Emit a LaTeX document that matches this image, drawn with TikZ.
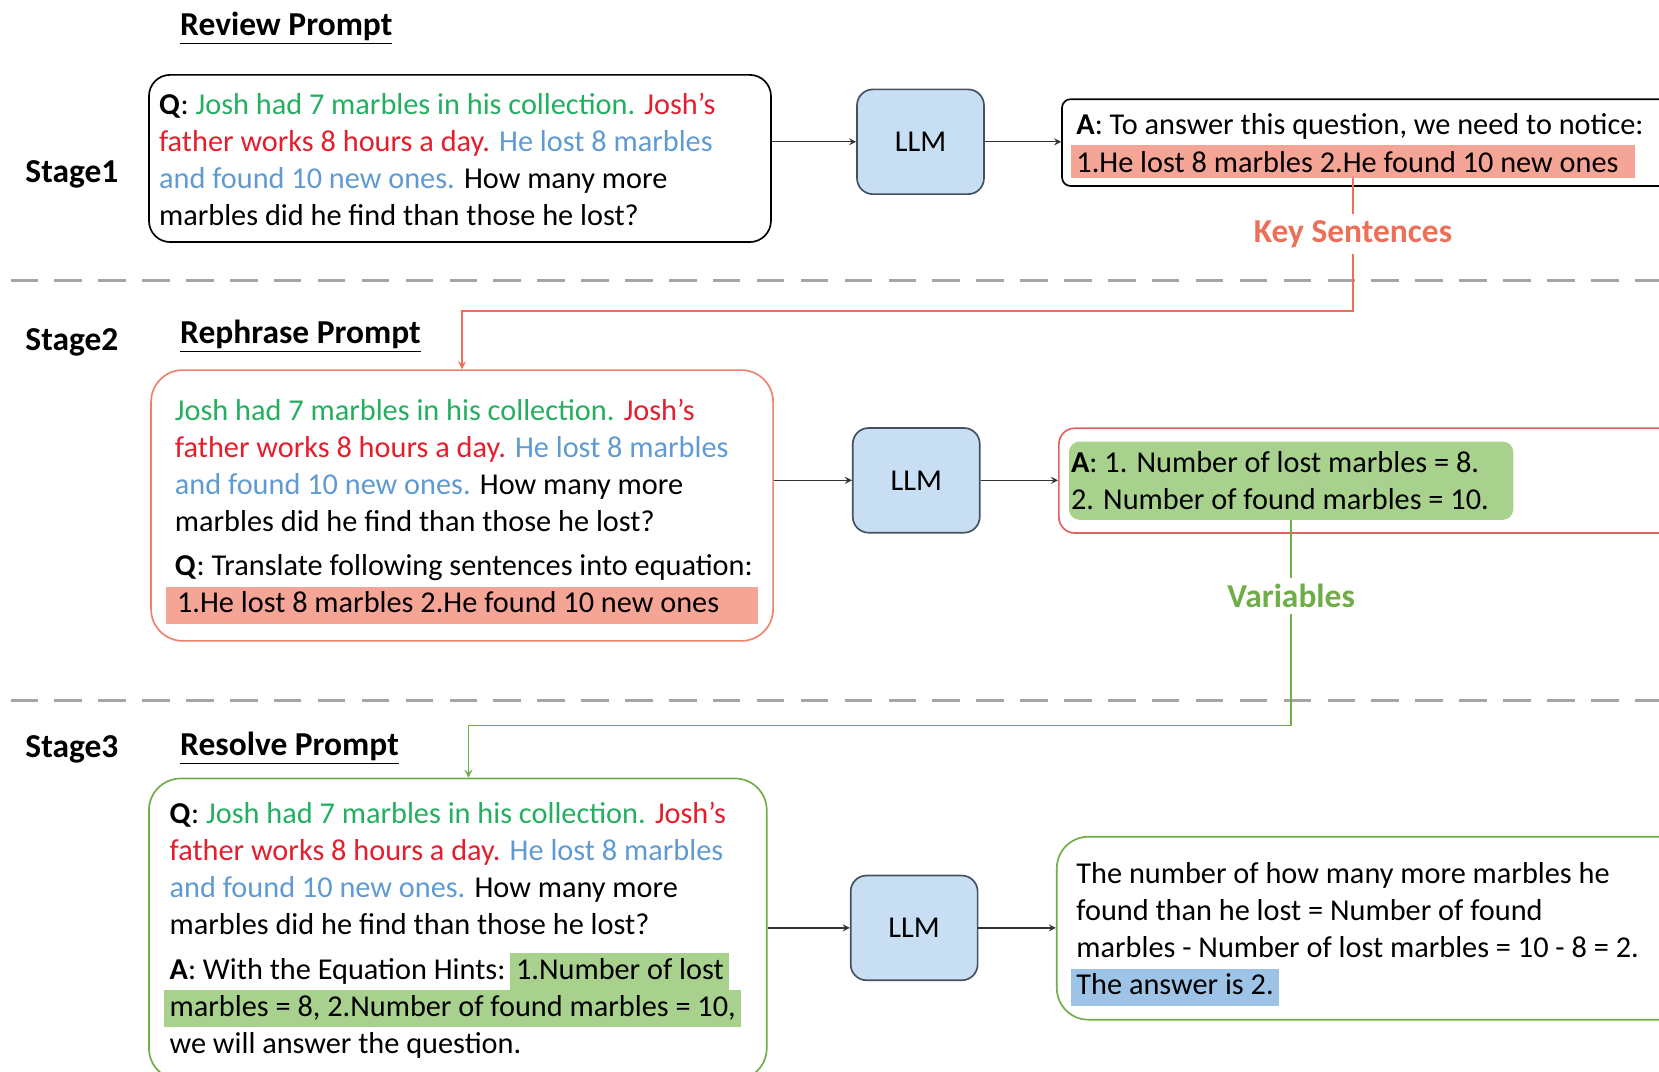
\documentclass[tikz,border=0pt]{standalone}
\usepackage{fontspec}
\setmainfont{Carlito}
\usepackage{tikz}
\usetikzlibrary{arrows, shapes, positioning}
\definecolor{storygreen}{RGB}{35,175,95}
\definecolor{storyred}{RGB}{228,30,45}
\definecolor{storyblue}{RGB}{95,155,210}
\definecolor{keyfill}{RGB}{245,165,150}
\definecolor{varfill}{RGB}{169,209,142}
\definecolor{ansfill}{RGB}{157,195,230}
\definecolor{llmfill}{RGB}{200,222,242}
\definecolor{llmline}{RGB}{70,80,95}
\definecolor{keycolor}{RGB}{236,112,88}
\definecolor{varcolor}{RGB}{112,173,71}
\definecolor{promptred}{RGB}{238,130,110}
\definecolor{ansred}{RGB}{228,95,95}
\definecolor{divgray}{RGB}{165,165,165}
\tikzset{
  node distance=1.5cm,
  every node/.style={align=left, font=\fontsize{16.3}{19.9}\selectfont}
}
\newcommand{\story}[1]{#1\textcolor{storygreen}{Josh had 7 marbles in his collection.} \textcolor{storyred}{Josh’s}\\
\textcolor{storyred}{father works 8 hours a day.} \textcolor{storyblue}{He lost 8 marbles}\\
\textcolor{storyblue}{and found 10 new ones.} How many more\\
marbles did he find than those he lost?}
\newcommand{\hilite}[2]{{\setlength{\fboxsep}{0pt}\colorbox{#1}{\hspace{3pt}\strut#2\hspace{3pt}}}}
\newcommand{\hlbar}[3]{{\setlength{\fboxsep}{0pt}\colorbox{#1}{\makebox[#2][l]{\hspace{0.2cm}\strut#3}}}}

\begin{document}
\begin{tikzpicture}[x=0.02cm, y=-0.02cm]
\tikzstyle{prompt}=[rectangle, draw, line width=0.9pt, anchor=north west,
  minimum width=11.76cm]
\tikzstyle{txt}=[anchor=north west, inner sep=0]
\tikzstyle{llm}=[rectangle, draw=llmline, fill=llmfill, line width=0.9pt,
  rounded corners=0.3cm, minimum width=2.4cm, minimum height=1.98cm, align=center]
\tikzstyle{answer}=[rectangle, draw, line width=0.9pt, anchor=north west,
  minimum width=12cm]
\tikzstyle{stage}=[font=\fontsize{18}{22}\selectfont\bfseries]
\tikzstyle{title}=[font=\fontsize{18}{22}\selectfont\bfseries, anchor=west, inner sep=0]
\tikzstyle{arr}=[-stealth, draw=black!80, line width=0.7pt]
\tikzstyle{divider}=[draw=divgray, line width=1.7pt, dash pattern=on 0.52cm off 0.31cm]
\tikzstyle{keyline}=[-stealth, draw=keycolor, line width=0.9pt]
\tikzstyle{varline}=[-stealth, draw=varcolor, line width=0.9pt]
\tikzstyle{keylabel}=[fill=white, text=keycolor, font=\fontsize{18}{22}\selectfont\bfseries]
\tikzstyle{varlabel}=[fill=white, text=varcolor, font=\fontsize{18}{22}\selectfont\bfseries]

\useasboundingbox (0,0) rectangle (1568,1013);

% stage 1
\node[stage](s1) at (68,165){Stage1};
\node[title](t1) at (170,27){\underline{Review Prompt}};
\node[prompt, rounded corners=0.4cm, minimum height=3.16cm](box1) at (140,70){};
\node[txt](q1) at (150,88){\story{\textbf{Q}: }};
\node[llm](llm1) at (870,134){LLM};
\node[answer, rounded corners=0.16cm, minimum height=1.64cm](ans1) at (1003,93){};
\node[txt](a1) at (1017,107){\textbf{A}: To answer this question, we need to notice:};
\node[anchor=north west, fill=keyfill, inner xsep=0.1cm, inner ysep=0,
  minimum height=0.62cm](ks1) at (1012,137)
  {\makebox[10.46cm][l]{1.He lost 8 marbles 2.He found 10 new ones}};
\draw[arr](box1.east |- llm1.west) -- (llm1.west);
\draw[arr](llm1.east) -- (llm1.east -| ans1.west);

% dividers
\draw[divider](10,265) -- (1568,265);
\draw[divider](10,662) -- (1568,662);

% stage 2
\node[stage](s2) at (68,324){Stage2};
\node[title](t2) at (170,318){\underline{Rephrase Prompt}};
\node[prompt, draw=promptred, rounded corners=0.6cm, minimum height=5.12cm](box2) at (142,349){};
\node[txt](q2) at (165,377){\story{}\\[0.14cm]
  \textbf{Q}: Translate following sentences into equation:\\
  \hspace*{-0.16cm}\hlbar{keyfill}{11.18cm}{1.He lost 8 marbles 2.He found 10 new ones}};
\node[llm](llm2) at (866,454){LLM};
\node[answer, draw=ansred, rounded corners=0.3cm, minimum height=1.98cm](ans2) at (1000,404){};
\node[anchor=north west, fill=varfill, rounded corners=0.2cm, text width=8.32cm,
  align=flush left, inner xsep=0.04cm, minimum height=1.48cm](var2) at (1010,417)
  {\textbf{A}: 1. Number of lost marbles = 8.\\2. Number of found marbles = 10.};
\draw[arr](box2.east |- llm2.west) -- (llm2.west);
\draw[arr](llm2.east) -- (llm2.east -| ans2.west);

% key sentences go to stage 2
\draw[keyline](ks1.south) -- node[keylabel, pos=0.42]{Key Sentences} ++(0,125) -| (box2.north);

% stage 3
\node[stage](s3) at (68,708){Stage3};
\node[title](t3) at (170,707){\underline{Resolve Prompt}};
\node[prompt, draw=varcolor, rounded corners=0.6cm, minimum width=11.68cm,
  minimum height=5.7cm](box3) at (140,735){};
\node[txt](q3) at (160,758){\story{\textbf{Q}: }\\[0.14cm]
  \textbf{A}: With the Equation Hints:\,\hilite{varfill}{1.Number of lost}\\
  \hspace*{-3pt}\hilite{varfill}{marbles = 8, 2.Number of found marbles = 10,}\\
  we will answer the question.};
\node[llm](llm3) at (864,877){LLM};
\node[answer, draw=varcolor, rounded corners=0.6cm, minimum height=3.46cm](ans3) at (998,790){};
\node[txt](r3) at (1017,815){The number of how many more marbles he\\
  found than he lost = Number of found\\
  marbles - Number of lost marbles = 10 - 8 = 2.\\
  \hspace*{-3pt}\hilite{ansfill}{The answer is 2.}};
\draw[arr](box3.east |- llm3.west) -- (llm3.west);
\draw[arr](llm3.east) -- (llm3.east -| ans3.west);

% variables go to stage 3
\draw[varline](var2.south) -- node[varlabel, pos=0.37]{Variables} ++(0,194) -| ([xshift=0.2cm]box3.north);

\end{tikzpicture}
\end{document}
